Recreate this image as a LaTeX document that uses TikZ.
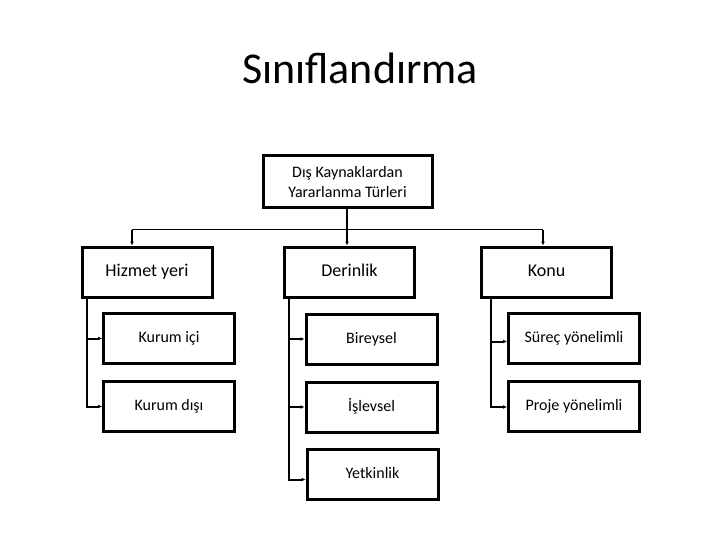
\documentclass[tikz,border=0pt]{standalone}
\usepackage{fontspec}
\setmainfont{Carlito}
\usepackage{tikz}
\usetikzlibrary{arrows.meta}
\usetikzlibrary{positioning}

\begin{document}
\begin{tikzpicture}[x=1pt, y=-1pt,
  box/.style={draw, line width=3pt, fill=white, inner sep=0pt},
  headbox/.style={box, align=center, minimum width=169pt, minimum height=52pt, font=\fontsize{16}{20}\selectfont},
  typebox/.style={box, minimum width=130pt, minimum height=50pt, text height=12.5pt, text depth=3.5pt, font=\fontsize{18}{21}\selectfont},
  itembox/.style={box, minimum width=131pt, minimum height=50pt, text height=11pt, text depth=3pt, font=\fontsize{16}{19}\selectfont},
  link/.style={line width=2pt, -{Latex[length=4pt,width=4pt]}}]

\useasboundingbox (0,0) rectangle (720,540);

% Title
  \node (title) at (360,68) {\fontsize{44}{52}\selectfont Sınıflandırma};

% Top box
  \node[headbox] (dis) at (347.5,182) {Dış Kaynaklardan\\Yararlanma Türleri};

% Second row
  \node[typebox] (hizmet) at (147,272) {Hizmet yeri};
  \node[typebox] (derin) at (349.5,272) {Derinlik};
  \node[typebox] (konu) at (546.5,272) {Konu};

% Third row
  \node[itembox] (kici) at (169,338.5) {Kurum içi};
  \node[itembox] (kdisi) at (169,406.5) {Kurum dışı};

  \node[itembox] (birey) at (371.5,339) {Bireysel};
  \node[itembox] (islev) at (371.5,407) {İşlevsel};
  \node[itembox] (yetki) at (372.5,474.5) {Yetkinlik};

  \node[itembox] (surec) at (574,338.5) {Süreç yönelimli};
  \node[itembox] (proje) at (574,406) {Proje yönelimli};

% Connectors to second row
  \coordinate (busL) at (132,230);
  \coordinate (busR) at (543,230);
  \draw[line width=1pt] (busL) -- (busR);
  \draw[link] ([xshift=-0.5pt]dis.south) -- ([xshift=-0.5pt]dis.south |- derin.north);
  \draw[link] (busL) -- (busL |- hizmet.north);
  \draw[link] (busR) -- (busR |- konu.north);

% Connectors to third row
  \draw[link] ([xshift=6pt]hizmet.south west) |- (kici.west);
  \draw[link] ([xshift=6pt]hizmet.south west) |- (kdisi.west);

  \draw[link] ([xshift=6pt]derin.south west) |- (birey.west);
  \draw[link] ([xshift=6pt]derin.south west) |- (islev.west);
  \draw[link] ([xshift=6pt]derin.south west) |- ([yshift=-5pt]yetki.west);

  \draw[link] ([xshift=11pt]konu.south west) |- ([yshift=-3pt]surec.west);
  \draw[link] ([xshift=11pt]konu.south west) |- ([yshift=-1pt]proje.west);

\end{tikzpicture}
\end{document}
